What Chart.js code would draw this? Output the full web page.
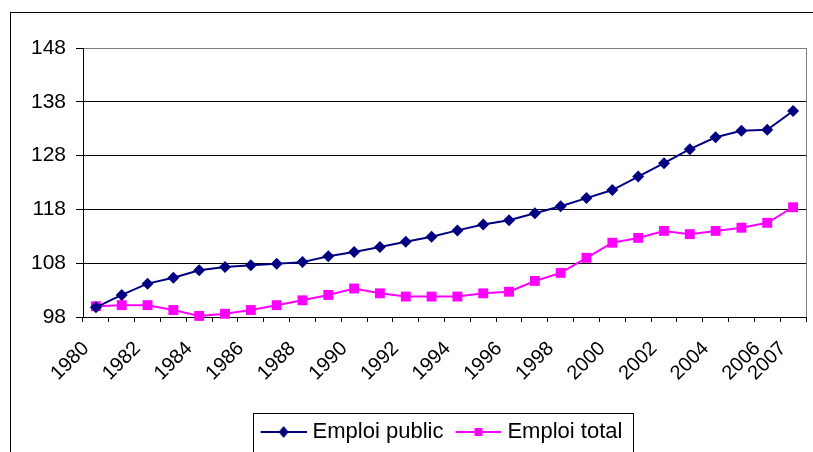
<!DOCTYPE html>
<html>
<head>
<meta charset="utf-8">
<script src="https://cdn.jsdelivr.net/npm/chart.js@4"></script>
<style>
  html, body { margin: 0; padding: 0; background: #fff; overflow: hidden; }
  #wrap { position: absolute; left: 0; top: 0; width: 813px; height: 452px; }
</style>
</head>
<body>
<div id="wrap"><canvas id="c" width="813" height="452"></canvas></div>
<script>
const years = ['1980','1981','1982','1983','1984','1985','1986','1987','1988','1989',
  '1990','1991','1992','1993','1994','1995','1996','1997','1998','1999',
  '2000','2001','2002','2003','2004','2005','2006','2007'];
const emploiPublic = [99.8,102.1,104.2,105.3,106.7,107.3,107.6,107.9,108.2,109.3,
  110.1,111.0,112.0,112.9,114.1,115.2,116.0,117.3,118.6,120.1,
  121.6,124.1,126.6,129.2,131.4,132.6,132.8,136.3];
const emploiTotal = [100.0,100.2,100.2,99.3,98.2,98.6,99.3,100.2,101.1,102.1,
  103.3,102.4,101.8,101.8,101.8,102.4,102.7,104.7,106.2,109.0,
  111.8,112.7,114.0,113.4,114.0,114.6,115.5,118.4];
const yTicks = [98,108,118,128,138,148];
const seriesNames = ['Emploi public','Emploi total'];
const seriesColors = ['#000080','#FF00FF'];

const FONT = '"Liberation Sans", Arial, sans-serif';

// legend sample: line with marker in the middle (transparent margin on the left)
function legendIcon(color, kind) {
  const cv = document.createElement('canvas');
  cv.width = 53; cv.height = 14;
  const g = cv.getContext('2d');
  g.strokeStyle = color; g.lineWidth = 2;
  g.beginPath(); g.moveTo(7, 7); g.lineTo(53, 7); g.stroke();
  g.fillStyle = color;
  g.beginPath();
  if (kind === 'diamond') {
    g.moveTo(30, 1); g.lineTo(35, 7); g.lineTo(30, 13); g.lineTo(25, 7);
  } else {
    g.rect(26, 3, 8, 8);
  }
  g.closePath(); g.fill();
  return cv;
}
const icons = [legendIcon(seriesColors[0], 'diamond'), legendIcon(seriesColors[1], 'square')];

const framePlugin = {
  id: 'frame',
  afterUpdate(chart) {
    const lg = chart.legend;
    if (!lg || !lg.legendHitBoxes || !lg.legendHitBoxes.length) return;
    const hb = lg.legendHitBoxes;
    const last = hb[hb.length - 1];
    const spanL = hb[0].left + 2, spanR = last.left + last.width;
    const dx = Math.round(441.5 - (spanL + spanR) / 2);
    const dy = Math.round(432 - (hb[0].top + hb[0].height / 2));
    lg.left += dx; lg.right += dx; lg.top += dy; lg.bottom += dy;
    hb.forEach(h => { h.left += dx; h.top += dy; });
  },
  beforeDraw(chart) {
    const ctx = chart.ctx;
    ctx.save();
    ctx.fillStyle = '#fff';
    ctx.fillRect(0, 0, chart.width, chart.height);
    ctx.strokeStyle = '#000';
    ctx.lineWidth = 1;
    ctx.strokeRect(10.5, 12.5, 900, 600);
    ctx.restore();
  },
  beforeDatasetsDraw(chart) {
    const ctx = chart.ctx, a = chart.chartArea;
    ctx.save();
    ctx.strokeStyle = '#808080';
    ctx.lineWidth = 1;
    ctx.beginPath();
    ctx.moveTo(Math.round(a.right) + 0.5, a.top);
    ctx.lineTo(Math.round(a.right) + 0.5, a.bottom);
    ctx.stroke();
    ctx.restore();
  },
  afterDraw(chart) {
    const lg = chart.legend;
    if (!lg || !lg.legendHitBoxes || !lg.legendHitBoxes.length) return;
    const hb = lg.legendHitBoxes;
    const left = hb[0].left - 6;
    const last = hb[hb.length - 1];
    const right = last.left + last.width + 10;
    const top = hb[0].top + hb[0].height / 2 - 19;
    const ctx = chart.ctx;
    ctx.save();
    ctx.strokeStyle = '#000';
    ctx.lineWidth = 1;
    ctx.strokeRect(Math.round(left) + 0.5, Math.round(top) + 0.5, Math.round(right - left), 200);
    ctx.restore();
  }
};

new Chart(document.getElementById('c'), {
  type: 'line',
  data: {
    labels: years,
    datasets: [
      {
        label: seriesNames[0], data: emploiPublic,
        borderColor: seriesColors[0], backgroundColor: seriesColors[0],
        borderWidth: 2, pointStyle: 'rectRot', pointRadius: 6, pointHoverRadius: 6,
        pointBorderWidth: 0, tension: 0, clip: false
      },
      {
        label: seriesNames[1], data: emploiTotal,
        borderColor: seriesColors[1], backgroundColor: seriesColors[1],
        borderWidth: 2, pointStyle: 'rect', pointRadius: 7, pointHoverRadius: 7,
        pointBorderWidth: 0, tension: 0, clip: false
      }
    ]
  },
  options: {
    responsive: false,
    animation: false,
    devicePixelRatio: 1,
    layout: { padding: { left: 10, top: 48, right: 6, bottom: 0 } },
    plugins: {
      title: { display: false },
      tooltip: { enabled: false },
      legend: {
        position: 'bottom',
        labels: {
          usePointStyle: true,
          pointStyleWidth: 43,
          padding: 10,
          color: '#000',
          font: { family: FONT, size: 22 },
          generateLabels(chart) {
            const items = Chart.defaults.plugins.legend.labels.generateLabels(chart);
            items.forEach((it, i) => { it.pointStyle = icons[i]; });
            return items;
          }
        }
      }
    },
    scales: {
      x: {
        type: 'category',
        offset: true,
        grid: {
          drawOnChartArea: false, offset: true, tickLength: 5,
          color: '#000', tickColor: '#000'
        },
        border: { color: '#000', width: 1 },
        ticks: {
          autoSkip: false, maxRotation: 45, minRotation: 45,
          color: '#000', padding: 15, labelOffset: -10,
          font: { family: FONT, size: 20 },
          callback(val, idx) {
            return (idx % 2 === 0 || idx === years.length - 1) ? years[idx] : '';
          }
        },
        afterFit(scale) {
          scale.height = 93;
          scale.paddingLeft = 0;
          scale.paddingRight = 0;
        }
      },
      y: {
        min: 98, max: 148,
        afterBuildTicks(scale) { scale.ticks = yTicks.map(v => ({ value: v })); },
        grid: {
          color: (c) => (c.tick && c.tick.value === 148 ? '#808080' : '#000'),
          tickColor: '#000', tickLength: 7, lineWidth: 1
        },
        border: { color: '#000', width: 1 },
        ticks: {
          color: '#000', padding: 10,
          font: { family: FONT, size: 21 }
        },
        afterFit(scale) {
          scale.width = 73;
          scale.paddingTop = 0;
          scale.paddingBottom = 0;
        }
      }
    }
  },
  plugins: [framePlugin]
});
</script>
</body>
</html>
